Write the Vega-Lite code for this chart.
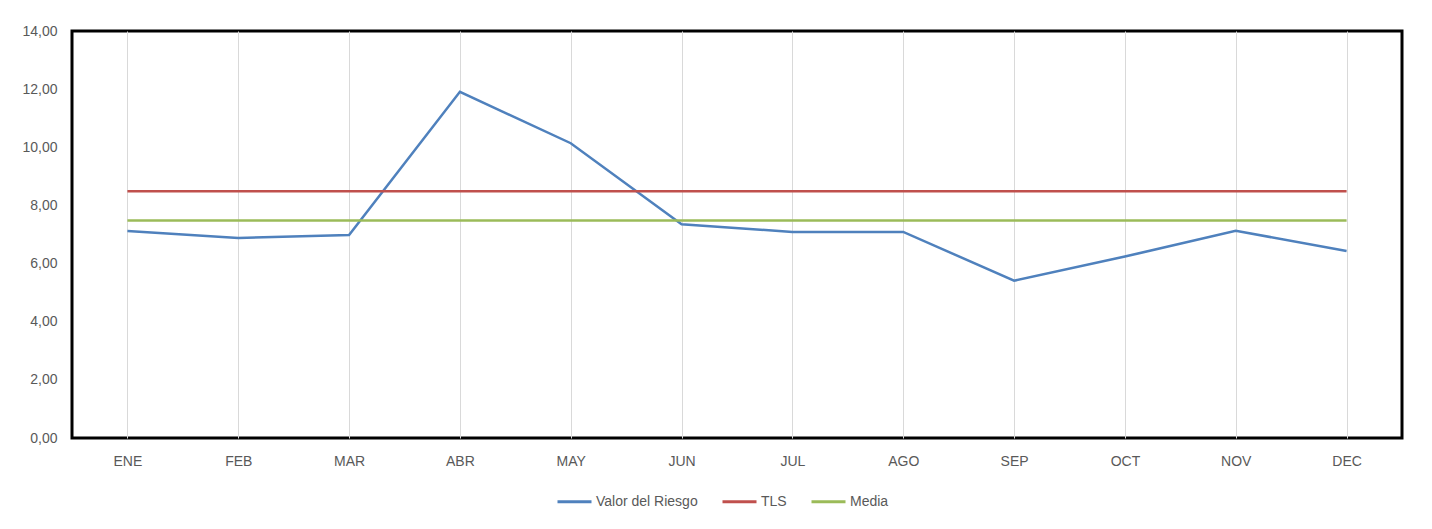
{
  "$schema": "https://vega.github.io/schema/vega-lite/v6.json",
  "width": 1330,
  "height": 407,
  "autosize": {"type": "none"},
  "padding": {"left": 72, "top": 31, "right": 30, "bottom": 91},
  "background": "white",
  "config": {
    "font": "Liberation Sans",
    "view": {"stroke": "black", "strokeWidth": 3}
  },
  "data": {
    "values": [
      {"mes": "ENE", "serie": "Valor del Riesgo", "valor": 7.12},
      {"mes": "FEB", "serie": "Valor del Riesgo", "valor": 6.88},
      {"mes": "MAR", "serie": "Valor del Riesgo", "valor": 6.98},
      {"mes": "ABR", "serie": "Valor del Riesgo", "valor": 11.91},
      {"mes": "MAY", "serie": "Valor del Riesgo", "valor": 10.14},
      {"mes": "JUN", "serie": "Valor del Riesgo", "valor": 7.35},
      {"mes": "JUL", "serie": "Valor del Riesgo", "valor": 7.09},
      {"mes": "AGO", "serie": "Valor del Riesgo", "valor": 7.09},
      {"mes": "SEP", "serie": "Valor del Riesgo", "valor": 5.41},
      {"mes": "OCT", "serie": "Valor del Riesgo", "valor": 6.24},
      {"mes": "NOV", "serie": "Valor del Riesgo", "valor": 7.13},
      {"mes": "DEC", "serie": "Valor del Riesgo", "valor": 6.43},
      {"mes": "ENE", "serie": "TLS", "valor": 8.49},
      {"mes": "FEB", "serie": "TLS", "valor": 8.49},
      {"mes": "MAR", "serie": "TLS", "valor": 8.49},
      {"mes": "ABR", "serie": "TLS", "valor": 8.49},
      {"mes": "MAY", "serie": "TLS", "valor": 8.49},
      {"mes": "JUN", "serie": "TLS", "valor": 8.49},
      {"mes": "JUL", "serie": "TLS", "valor": 8.49},
      {"mes": "AGO", "serie": "TLS", "valor": 8.49},
      {"mes": "SEP", "serie": "TLS", "valor": 8.49},
      {"mes": "OCT", "serie": "TLS", "valor": 8.49},
      {"mes": "NOV", "serie": "TLS", "valor": 8.49},
      {"mes": "DEC", "serie": "TLS", "valor": 8.49},
      {"mes": "ENE", "serie": "Media", "valor": 7.48},
      {"mes": "FEB", "serie": "Media", "valor": 7.48},
      {"mes": "MAR", "serie": "Media", "valor": 7.48},
      {"mes": "ABR", "serie": "Media", "valor": 7.48},
      {"mes": "MAY", "serie": "Media", "valor": 7.48},
      {"mes": "JUN", "serie": "Media", "valor": 7.48},
      {"mes": "JUL", "serie": "Media", "valor": 7.48},
      {"mes": "AGO", "serie": "Media", "valor": 7.48},
      {"mes": "SEP", "serie": "Media", "valor": 7.48},
      {"mes": "OCT", "serie": "Media", "valor": 7.48},
      {"mes": "NOV", "serie": "Media", "valor": 7.48},
      {"mes": "DEC", "serie": "Media", "valor": 7.48}
    ]
  },
  "mark": {"type": "line", "strokeWidth": 2.5},
  "encoding": {
    "x": {
      "field": "mes",
      "type": "ordinal",
      "sort": ["ENE", "FEB", "MAR", "ABR", "MAY", "JUN", "JUL", "AGO", "SEP", "OCT", "NOV", "DEC"],
      "scale": {"type": "point", "padding": 0.5},
      "axis": {
        "title": null,
        "labelAngle": 0,
        "labelFontSize": 14,
        "labelColor": "#595959",
        "labelPadding": 16,
        "ticks": false,
        "domain": false,
        "grid": true,
        "gridColor": "#D9D9D9",
        "gridWidth": 1
      }
    },
    "y": {
      "field": "valor",
      "type": "quantitative",
      "scale": {"domain": [0, 14], "nice": false},
      "axis": {
        "title": null,
        "values": [0, 2, 4, 6, 8, 10, 12, 14],
        "labelExpr": "replace(format(datum.value, '.2f'), '.', ',')",
        "labelFontSize": 14,
        "labelColor": "#595959",
        "labelPadding": 15,
        "ticks": false,
        "domain": false,
        "grid": false
      }
    },
    "color": {
      "field": "serie",
      "type": "nominal",
      "scale": {
        "domain": ["Valor del Riesgo", "TLS", "Media"],
        "range": ["#4F81BD", "#C0504D", "#9BBB59"]
      },
      "legend": {
        "title": null,
        "orient": "none",
        "direction": "horizontal",
        "legendX": 484,
        "legendY": 452,
        "symbolType": "stroke",
        "symbolSize": 1156,
        "symbolStrokeWidth": 3,
        "labelFontSize": 14,
        "labelColor": "#595959",
        "labelOffset": 3,
        "columnPadding": 18
      }
    }
  }
}
